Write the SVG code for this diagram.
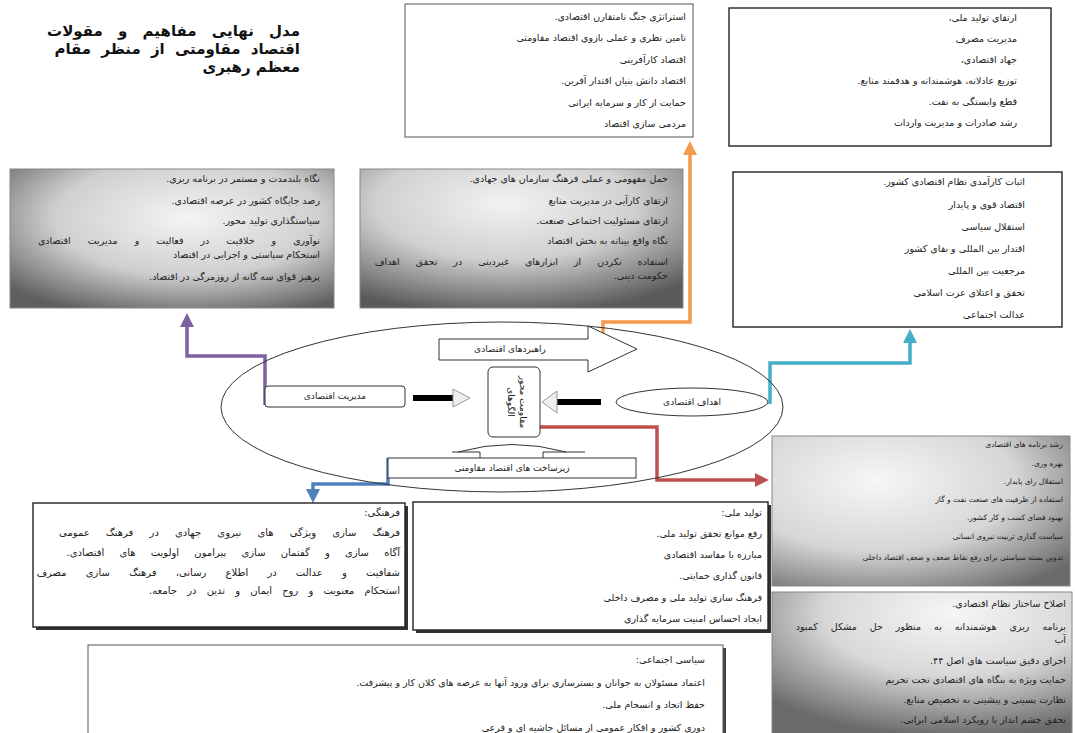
<svg xmlns="http://www.w3.org/2000/svg" width="1075" height="733" viewBox="0 0 1075 733">
<style>
text{font-family:"DejaVu Sans","Noto Sans",sans-serif;fill:#222;direction:rtl;text-anchor:start}
.t{font-size:9.5px}
.c{font-size:10px}
.s{font-size:7.5px}
.title{font-size:15px;font-weight:bold;fill:#111}
.lbl{font-size:9px;text-anchor:middle}
.box{fill:#fff;stroke:#555;stroke-width:1}
.dbox{fill:#fff;stroke:#222;stroke-width:1.4}
.gbox{stroke:#888;stroke-width:1}
.shape{fill:#fff;stroke:#333;stroke-width:1}
.con{fill:none;stroke-width:3.5}
</style>
<defs>
<radialGradient id="g1" cx="0.55" cy="0.35" r="0.75"><stop offset="0" stop-color="#f4f4f4"/><stop offset="0.55" stop-color="#cfcfcf"/><stop offset="1" stop-color="#5e5e5e"/></radialGradient>
<radialGradient id="g2" cx="0.45" cy="0.25" r="0.8"><stop offset="0" stop-color="#f2f2f2"/><stop offset="0.5" stop-color="#d0d0d0"/><stop offset="1" stop-color="#5a5a5a"/></radialGradient>
<radialGradient id="g3" cx="0.35" cy="0.3" r="0.85"><stop offset="0" stop-color="#f6f6f6"/><stop offset="0.55" stop-color="#d6d6d6"/><stop offset="1" stop-color="#6a6a6a"/></radialGradient>
<radialGradient id="g4" cx="0.6" cy="0.15" r="0.85"><stop offset="0" stop-color="#f6f6f6"/><stop offset="0.5" stop-color="#d8d8d8"/><stop offset="1" stop-color="#6a6a6a"/></radialGradient>
<marker id="mO" viewBox="0 0 10 10" refX="5" refY="5" markerWidth="4" markerHeight="4" orient="auto"><path d="M0,0 L10,5 L0,10 z" fill="#f39a4c"/></marker>
<marker id="mP" viewBox="0 0 10 10" refX="5" refY="5" markerWidth="4" markerHeight="4" orient="auto"><path d="M0,0 L10,5 L0,10 z" fill="#7d60a0"/></marker>
<marker id="mT" viewBox="0 0 10 10" refX="5" refY="5" markerWidth="4" markerHeight="4" orient="auto"><path d="M0,0 L10,5 L0,10 z" fill="#45aec8"/></marker>
<marker id="mR" viewBox="0 0 10 10" refX="5" refY="5" markerWidth="4" markerHeight="4" orient="auto"><path d="M0,0 L10,5 L0,10 z" fill="#c0504d"/></marker>
<marker id="mB" viewBox="0 0 10 10" refX="5" refY="5" markerWidth="4" markerHeight="4" orient="auto"><path d="M0,0 L10,5 L0,10 z" fill="#4f81bd"/></marker>
</defs>
<rect width="1075" height="733" fill="#fff"/>

<g id="title">
<text class="title" x="300" y="36" word-spacing="10">مدل نهایی مفاهیم و مقولات</text>
<text class="title" x="300" y="54" word-spacing="5">اقتصاد مقاومتی از منظر مقام</text>
<text class="title" x="300" y="72">معظم رهبری</text>
</g>

<g id="connectors">
<path class="con" stroke="#f39a4c" d="M603,337 V322 H690 V148" marker-end="url(#mO)"/>
<path class="con" stroke="#7d60a0" d="M265,405 V356 H187 V320" marker-end="url(#mP)"/>
<path class="con" stroke="#45aec8" d="M770,404 V363 H910 V336" marker-end="url(#mT)"/>
<path class="con" stroke="#c0504d" d="M540,427 H657 V480 H762" marker-end="url(#mR)"/>
<path class="con" stroke="#4f81bd" d="M388,458 V484 H313 V496" marker-end="url(#mB)"/>
</g>

<g id="box-strategy">
<rect class="box" x="405" y="4" width="288" height="133"/>
<text class="t" x="686" y="20">استراتژی جنگ نامتقارن اقتصادی.</text>
<text class="t" x="686" y="41">تامین نظری و عملی بازوی اقتصاد مقاومتی</text>
<text class="t" x="686" y="63">اقتصاد کارآفرینی</text>
<text class="t" x="686" y="84">اقتصاد دانش بنیان اقتدار آفرین.</text>
<text class="t" x="686" y="106">حمایت از کار و سرمایه ایرانی</text>
<text class="t" x="686" y="127">مردمی سازی اقتصاد</text>
</g>

<g id="box-production">
<rect class="dbox" x="729" y="8" width="322" height="138"/>
<text class="t" x="1017" y="21">ارتقای تولید ملی،</text>
<text class="t" x="1017" y="42">مدیریت مصرف</text>
<text class="t" x="1017" y="63">جهاد اقتصادی،</text>
<text class="t" x="1017" y="84">توزیع عادلانه، هوشمندانه و هدفمند منابع.</text>
<text class="t" x="1017" y="105">قطع وابستگی به نفت.</text>
<text class="t" x="1017" y="126">رشد صادرات و مدیریت واردات</text>
</g>

<g id="box-management">
<rect class="gbox" x="10" y="169" width="324" height="139" fill="url(#g1)"/>
<text class="t" x="320" y="182">نگاه بلندمدت و مستمر در برنامه ریزی.</text>
<text class="t" x="320" y="204">رصد جایگاه کشور در عرصه اقتصادی.</text>
<text class="t" x="320" y="224">سیاستگذاری تولید محور.</text>
<text class="t" x="320" y="244" word-spacing="14">نوآوری و خلاقیت در فعالیت و مدیریت اقتصادی</text>
<text class="t" x="320" y="258">استحکام سیاستی و اجرایی در اقتصاد</text>
<text class="t" x="320" y="280">پرهیز قوای سه گانه از روزمرگی در اقتصاد.</text>
</g>

<g id="box-guidelines">
<rect class="gbox" x="360" y="169" width="323" height="139" fill="url(#g2)"/>
<text class="t" x="668" y="182">حمل مفهومی و عملی فرهنگ سازمان های جهادی.</text>
<text class="t" x="668" y="204">ارتقای کارآیی در مدیریت منابع</text>
<text class="t" x="668" y="224">ارتقای مسئولیت اجتماعی صنعت.</text>
<text class="t" x="668" y="244">نگاه واقع بینانه به بخش اقتصاد</text>
<text class="t" x="668" y="265" word-spacing="13">استفاده نکردن از ابزارهای غیردینی در تحقق اهداف</text>
<text class="t" x="668" y="279">حکومت دینی.</text>
</g>

<g id="box-goals">
<rect class="dbox" x="733" y="172" width="329" height="155"/>
<text class="t" x="1025" y="185">اثبات کارآمدی نظام اقتصادی کشور.</text>
<text class="t" x="1025" y="208">اقتصاد قوی و پایدار</text>
<text class="t" x="1025" y="230">استقلال سیاسی</text>
<text class="t" x="1025" y="252">اقتدار بین المللی و بقای کشور</text>
<text class="t" x="1025" y="274">مرجعیت بین المللی</text>
<text class="t" x="1025" y="296">تحقق و اعتلای عزت اسلامی</text>
<text class="t" x="1025" y="318">عدالت اجتماعی</text>
</g>

<g id="core">
<ellipse cx="502" cy="407" rx="281" ry="85" fill="none" stroke="#333" stroke-width="1"/>
</g>

<g id="node-rahbord">
<path class="shape" d="M439,339 H588 V326 L637,349 L588,372 V360 H439 Z"/>
<text class="lbl" x="510" y="352">راهبردهای اقتصادی</text>
</g>

<g id="node-modiriat">
<rect class="shape" x="265" y="386" width="140" height="21" rx="3"/>
<text class="lbl" x="335" y="399">مدیریت اقتصادی</text>
<rect x="413" y="395" width="40" height="6" fill="#000"/>
<path d="M453,389 L470,398 L453,407 Z" fill="#eee" stroke="#999" stroke-width="1"/>
</g>

<g id="node-center">
<rect class="shape" x="488" y="367" width="52" height="70" rx="5"/>
<text class="lbl" transform="translate(508,402) rotate(90)">الگوهای</text>
<text class="lbl" transform="translate(520,402) rotate(90)">مقاومت محور</text>
</g>

<g id="node-ahdaf">
<rect x="557" y="399" width="44" height="6" fill="#000"/>
<path d="M557,391 L542,402 L557,413 Z" fill="#eee" stroke="#999" stroke-width="1"/>
<ellipse class="shape" cx="692" cy="402" rx="76" ry="14"/>
<text class="lbl" x="692" y="405">اهداف اقتصادی</text>
</g>

<g id="node-zirsakht">
<rect class="shape" x="388" y="458" width="248" height="20"/>
<path d="M452,452 H480 V458 M543,458 V452 H585 M458,452 Q512,437 566,452" fill="none" stroke="#333" stroke-width="1"/>
<text class="lbl" x="512" y="471">زیرساخت های اقتصاد مقاومتی</text>
</g>

<g id="box-policies">
<rect class="gbox" x="772" y="436" width="298" height="150" fill="url(#g3)"/>
<text class="s" x="1063" y="447">رشد برنامه های اقتصادی</text>
<text class="s" x="1063" y="466">بهره وری.</text>
<text class="s" x="1063" y="484">استقلال رای پایدار.</text>
<text class="s" x="1063" y="502">استفاده از ظرفیت های صنعت نفت و گاز</text>
<text class="s" x="1063" y="520">بهبود فضای کسب و کار کشور.</text>
<text class="s" x="1063" y="539">سیاست گذاری تربیت نیروی انسانی</text>
<text class="s" x="1063" y="560">تدوین بسته سیاستی برای رفع نقاط ضعف و ضعف اقتصاد داخلی</text>
</g>

<g id="box-reform">
<rect class="gbox" x="772" y="592" width="300" height="145" fill="url(#g4)"/>
<text class="t" x="1066" y="607">اصلاح ساختار نظام اقتصادی.</text>
<text class="t" x="1066" y="630" word-spacing="10">برنامه ریزی هوشمندانه به منظور حل مشکل کمبود</text>
<text class="t" x="1066" y="643">آب</text>
<text class="t" x="1066" y="664">اجرای دقیق سیاست های اصل ۴۴.</text>
<text class="t" x="1066" y="683">حمایت ویژه به بنگاه های اقتصادی تحت تحریم</text>
<text class="t" x="1066" y="703">نظارت پسینی و پیشینی به تخصیص منابع.</text>
<text class="t" x="1066" y="723">تحقق چشم انداز با رویکرد اسلامی ایرانی.</text>
</g>

<g id="box-culture">
<rect x="36" y="506" width="372" height="124" fill="#333"/>
<rect class="dbox" x="33" y="503" width="372" height="124"/>
<text class="c" x="400" y="516">فرهنگی:</text>
<text class="c" x="400" y="536" word-spacing="13">فرهنگ سازی ویژگی های نیروی جهادی در فرهنگ عمومی</text>
<text class="c" x="400" y="556" word-spacing="12">آگاه سازی و گفتمان سازی پیرامون اولویت های اقتصادی.</text>
<text class="c" x="400" y="576" word-spacing="16">شفافیت و عدالت در اطلاع رسانی، فرهنگ سازی مصرف</text>
<text class="c" x="400" y="594" word-spacing="7">استحکام معنویت و روح ایمان و تدین در جامعه.</text>
</g>

<g id="box-national">
<rect x="416" y="505" width="355" height="128" fill="#333"/>
<rect class="dbox" x="413" y="502" width="355" height="128"/>
<text class="t" x="762" y="516">تولید ملی:</text>
<text class="t" x="762" y="537">رفع موانع تحقق تولید ملی.</text>
<text class="t" x="762" y="558">مبارزه با مفاسد اقتصادی</text>
<text class="t" x="762" y="579">قانون گذاری حمایتی.</text>
<text class="t" x="762" y="601">فرهنگ سازی تولید ملی و مصرف داخلی</text>
<text class="t" x="762" y="622">ایجاد احساس امنیت سرمایه گذاری</text>
</g>

<g id="box-social">
<rect x="91" y="648" width="635" height="95" fill="#444"/>
<rect class="box" x="88" y="645" width="635" height="95"/>
<text class="t" x="705" y="663">سیاسی اجتماعی:</text>
<text class="t" x="705" y="686">اعتماد مسئولان به جوانان و بسترسازی برای ورود آنها به عرصه های کلان کار و پیشرفت.</text>
<text class="t" x="705" y="708">حفظ اتحاد و انسجام ملی.</text>
<text class="t" x="705" y="731">دوری کشور و افکار عمومی از مسائل حاشیه ای و فرعی</text>
</g>
</svg>
